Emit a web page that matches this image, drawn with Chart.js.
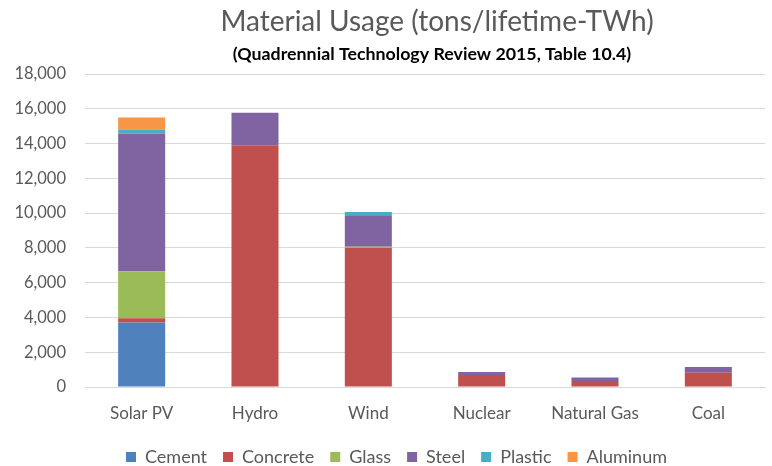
<!DOCTYPE html>
<html>
<head>
<meta charset="utf-8">
<script src="https://cdn.jsdelivr.net/npm/chart.js@4/dist/chart.umd.min.js"></script>
<style>
  html, body { margin: 0; padding: 0; background: #fff; }
  #wrap { width: 772px; height: 466px; position: relative; }
</style>
</head>
<body>
<div id="wrap"><canvas id="c" width="772" height="466"></canvas></div>
<script>
// Technologies on the x axis
const categories = ["Solar PV", "Hydro", "Wind", "Nuclear", "Natural Gas", "Coal"];

// Material usage per technology (tons per lifetime-TWh)
const cement   = [3710, 0, 0, 0, 0, 0];
const concrete = [250, 13900, 8000, 690, 350, 825];
const glass    = [2690, 0, 60, 0, 0, 0];
const steel    = [7930, 1870, 1810, 175, 190, 330];
const plastic  = [230, 0, 190, 0, 0, 0];
const aluminum = [690, 0, 0, 0, 0, 0];

const yTicks = [0, 2000, 4000, 6000, 8000, 10000, 12000, 14000, 16000, 18000];

const titleText = "Material Usage (tons/lifetime-TWh)";
const subtitleText = "(Quadrennial Technology Review 2015, Table 10.4)";

const seriesNames = ["Cement", "Concrete", "Glass", "Steel", "Plastic", "Aluminum"];
const seriesData = [cement, concrete, glass, steel, plastic, aluminum];
const seriesColors = ["#4F81BD", "#C0504D", "#9BBB59", "#8064A2", "#4BACC6", "#F79646"];

const FONT = "Lato, 'Open Sans', 'Liberation Sans', sans-serif";

// Title and subtitle, centred over the plot area
const headingPlugin = {
  id: "heading",
  afterLayout(chart) {
    // centre the legend row under the plot area rather than the canvas
    const lg = chart.legend;
    if (lg) { lg.left += 14; lg.right += 14; }
  },
  afterDraw(chart) {
    const { ctx, chartArea } = chart;
    const cx = (chartArea.left + chartArea.right) / 2;
    ctx.save();
    ctx.textAlign = "center";
    ctx.textBaseline = "alphabetic";
    ctx.fillStyle = "#595959";
    ctx.font = "28px " + FONT;
    ctx.fillText(titleText, cx + 12, 31);
    ctx.fillStyle = "#000000";
    ctx.font = "bold 17.8px " + FONT;
    ctx.fillText(subtitleText, cx + 7, 59.5);
    ctx.restore();
  }
};

new Chart(document.getElementById("c"), {
  type: "bar",
  data: {
    labels: categories,
    datasets: seriesNames.map((name, i) => ({
      label: name,
      data: seriesData[i],
      backgroundColor: seriesColors[i],
      borderWidth: 0,
      barPercentage: 0.83,
      categoryPercentage: 0.5
    }))
  },
  options: {
    responsive: false,
    animation: false,
    layout: { padding: { left: 0, right: 7, top: 74, bottom: -10 } },
    plugins: {
      title: { display: false },
      legend: {
        position: "bottom",
        labels: {
          color: "#595959",
          font: { family: FONT, size: 18 },
          boxWidth: 10,
          boxHeight: 10,
          padding: 16
        }
      },
      tooltip: { enabled: false }
    },
    scales: {
      x: {
        stacked: true,
        grid: { display: false, drawTicks: false },
        border: { display: true, color: "#d9d9d9" },
        afterFit: axis => { axis.height = 45; },
        ticks: { color: "#595959", font: { family: FONT, size: 17 }, padding: 16 }
      },
      y: {
        stacked: true,
        min: 0,
        max: 18000,
        afterBuildTicks: axis => { axis.ticks = yTicks.map(v => ({ value: v })); },
        afterFit: axis => { axis.width = 85; },
        grid: { color: "#d9d9d9", drawTicks: false },
        border: { display: false },
        ticks: {
          color: "#595959",
          font: { family: FONT, size: 16.5 },
          padding: 19,
          callback: v => v.toLocaleString("en-US")
        }
      }
    }
  },
  plugins: [headingPlugin]
});
</script>
</body>
</html>
